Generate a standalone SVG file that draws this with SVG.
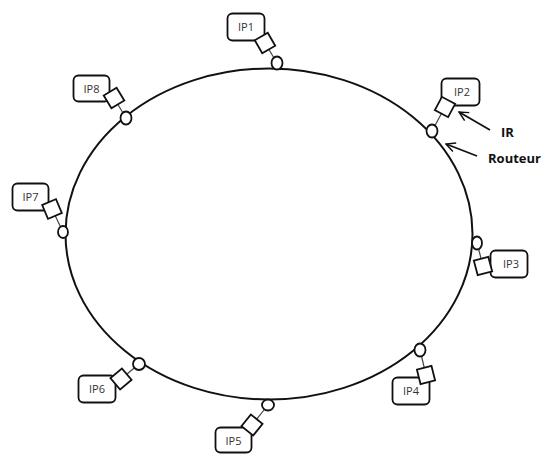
<svg xmlns="http://www.w3.org/2000/svg" width="543" height="454" viewBox="0 0 543 454">
  <defs>
    <style>
      .ring { fill: none; stroke: #111; stroke-width: 2; }
      .box { fill: #fff; stroke: #111; stroke-width: 1.8; }
      .ir { fill: #fff; stroke: #111; stroke-width: 1.8; }
      .rt { fill: #fff; stroke: #111; stroke-width: 1.8; }
      .stub { stroke: #444; stroke-width: 1.2; }
      .lbl { font-family: "Open Sans", "Liberation Sans", sans-serif; font-size: 11px; fill: #333; text-anchor: middle; }
      .note { font-family: "Open Sans", "Liberation Sans", sans-serif; font-size: 13px; font-weight: bold; fill: #111; }
      .arrow { fill: none; stroke: #111; stroke-width: 1.8; }
    </style>
    <!-- open V arrowhead, tip at the line end -->
    <marker id="head" viewBox="0 0 12 12" refX="11" refY="6" markerWidth="11" markerHeight="11" orient="auto" markerUnits="userSpaceOnUse">
      <path d="M1,1 L11,6 L1,11" fill="none" stroke="#111" stroke-width="1.6"/>
    </marker>
  </defs>

  <rect width="543" height="454" fill="#fff"/>

  <!-- ring network -->
  <g id="ring">
    <ellipse class="ring" cx="269" cy="234" rx="203.5" ry="165.5"/>
  </g>

  <!-- each IP: label box, network interface (square), router (oval) -->
  <g id="ip1">
    <line class="stub" x1="277" y1="63" x2="265" y2="43"/>
    <rect class="box" x="227.5" y="13.5" width="37" height="27" rx="5"/>
    <text class="lbl" x="246" y="31">IP1</text>
    <rect class="ir" x="-7.5" y="-7.5" width="15" height="15" transform="translate(265,43) rotate(-30)"/>
    <ellipse class="rt" cx="277" cy="63" rx="5.5" ry="6.5"/>
  </g>

  <g id="ip2">
    <line class="stub" x1="432" y1="131" x2="445" y2="107"/>
    <rect class="box" x="441.5" y="78.5" width="38" height="27" rx="5"/>
    <text class="lbl" x="462" y="96">IP2</text>
    <rect class="ir" x="-7.5" y="-7.5" width="15" height="15" transform="translate(445,107) rotate(28)"/>
    <ellipse class="rt" cx="432" cy="131" rx="5.5" ry="6.5"/>
  </g>

  <g id="ip3">
    <line class="stub" x1="477" y1="243" x2="483" y2="266"/>
    <rect class="box" x="490.5" y="250.5" width="37" height="27" rx="5"/>
    <text class="lbl" x="511" y="268">IP3</text>
    <rect class="ir" x="-7.5" y="-7.5" width="15" height="15" transform="translate(483,266) rotate(-15)"/>
    <ellipse class="rt" cx="477" cy="243" rx="5" ry="6.5"/>
  </g>

  <g id="ip4">
    <line class="stub" x1="420" y1="350" x2="426" y2="375"/>
    <rect class="box" x="392.5" y="377.5" width="37" height="27" rx="5"/>
    <text class="lbl" x="411" y="395">IP4</text>
    <rect class="ir" x="-7.5" y="-7.5" width="15" height="15" transform="translate(426,375) rotate(-14)"/>
    <ellipse class="rt" cx="420" cy="350" rx="5.5" ry="6.5"/>
  </g>

  <g id="ip5">
    <line class="stub" x1="268" y1="405" x2="252" y2="425"/>
    <rect class="box" x="215.5" y="427.5" width="36" height="25" rx="5"/>
    <text class="lbl" x="233.5" y="444.5">IP5</text>
    <rect class="ir" x="-7.5" y="-7.5" width="15" height="15" transform="translate(252,425) rotate(39)"/>
    <ellipse class="rt" cx="268" cy="405" rx="6" ry="5.5"/>
  </g>

  <g id="ip6">
    <line class="stub" x1="139" y1="364" x2="121" y2="379"/>
    <rect class="box" x="78.5" y="375.5" width="37" height="27" rx="5"/>
    <text class="lbl" x="97" y="393">IP6</text>
    <rect class="ir" x="-7.5" y="-7.5" width="15" height="15" transform="translate(121,379) rotate(-40)"/>
    <ellipse class="rt" cx="139" cy="364" rx="6" ry="6"/>
  </g>

  <g id="ip7">
    <line class="stub" x1="63" y1="232" x2="52" y2="209"/>
    <rect class="box" x="12.5" y="183.5" width="36" height="27" rx="5"/>
    <text class="lbl" x="30.5" y="201">IP7</text>
    <rect class="ir" x="-7.5" y="-7.5" width="15" height="15" transform="translate(52,209) rotate(-23)"/>
    <ellipse class="rt" cx="63" cy="232" rx="5" ry="6"/>
  </g>

  <g id="ip8">
    <line class="stub" x1="126" y1="118" x2="114" y2="98"/>
    <rect class="box" x="73.5" y="75.5" width="36" height="26" rx="5"/>
    <text class="lbl" x="91.5" y="92.5">IP8</text>
    <rect class="ir" x="-7.5" y="-7.5" width="15" height="15" transform="translate(114,98) rotate(-31)"/>
    <ellipse class="rt" cx="126" cy="118" rx="5.5" ry="6.5"/>
  </g>

  <!-- callout arrows -->
  <g id="connectors">
    <line class="arrow" x1="490" y1="130" x2="459" y2="112" marker-end="url(#head)"/>
    <line class="arrow" x1="477" y1="156" x2="446" y2="144" marker-end="url(#head)"/>
  </g>

  <g id="callouts">
    <text class="note" x="501" y="137">IR</text>
    <text class="note" x="488" y="163">Routeur</text>
  </g>
</svg>
